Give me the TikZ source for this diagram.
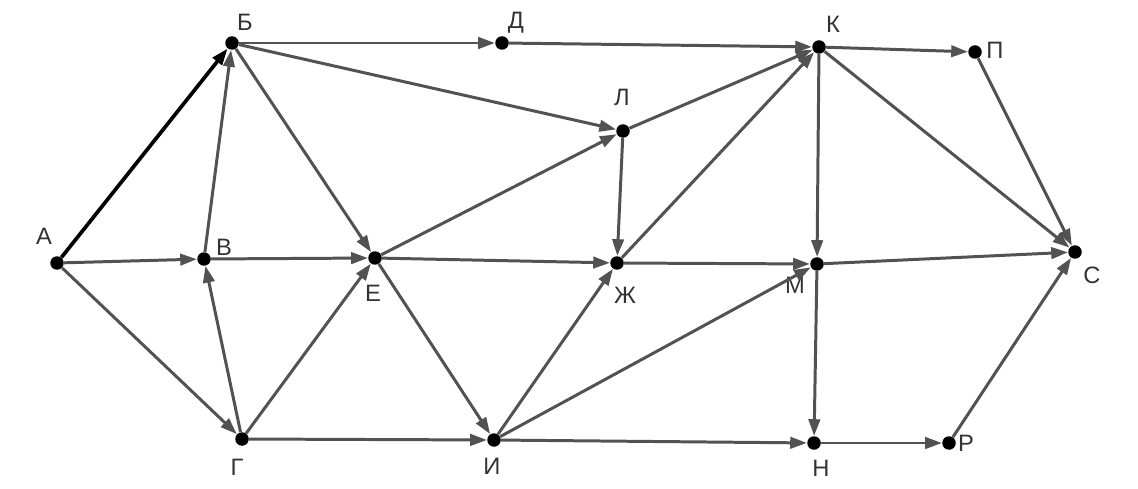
\documentclass[tikz,border=0pt]{standalone}
\usepackage{fontspec}
\setmainfont{Liberation Sans}
\usetikzlibrary{arrows.meta}

\tikzset{
    dot/.style={circle, fill=black, inner sep=0pt, minimum size=0.27cm},
    edge/.style={draw=black!68, line width=1.7pt, -{Triangle[length=9.5pt, width=6.5pt]}},
    lbl/.style={text=black!80, font=\fontsize{13.5}{15}\selectfont, inner sep=0pt}
}

\begin{document}
\begin{tikzpicture}[x=0.02cm, y=-0.02cm]
    \useasboundingbox (0,0) rectangle (1138,489);

    % Vertices
    \node[dot] (A)  at (57,263)   {};
    \node[dot] (B)  at (232,43)   {};
    \node[dot] (V)  at (204,259)  {};
    \node[dot] (G)  at (242,439)  {};
    \node[dot] (D)  at (502,43)   {};
    \node[dot] (E)  at (375,258)  {};
    \node[dot] (Zh) at (617,263)  {};
    \node[dot] (I)  at (494,440)  {};
    \node[dot] (K)  at (819,47)   {};
    \node[dot] (L)  at (623,131)  {};
    \node[dot] (M)  at (817,264)  {};
    \node[dot] (N)  at (814,443)  {};
    \node[dot] (P)  at (975,52)   {};
    \node[dot] (R)  at (949,443)  {};
    \node[dot] (S)  at (1075,252) {};

    % Labels
    \node[lbl] (lA)  at (44,236)   {А};
    \node[lbl] (lB)  at (245,22)   {Б};
    \node[lbl] (lV)  at (224,247)  {В};
    \node[lbl] (lG)  at (237,467)  {Г};
    \node[lbl] (lD)  at (516,23)   {Д};
    \node[lbl] (lE)  at (373,293)  {Е};
    \node[lbl] (lZh) at (625,295)  {Ж};
    \node[lbl] (lI)  at (492,466)  {И};
    \node[lbl] (lK)  at (833,24)   {К};
    \node[lbl] (lL)  at (622,97)   {Л};
    \node[lbl] (lM)  at (795,285)  {М};
    \node[lbl] (lN)  at (821,468)  {Н};
    \node[lbl] (lP)  at (995,50)   {П};
    \node[lbl] (lR)  at (966,443)  {Р};
    \node[lbl] (lS)  at (1092,275) {С};

    % Arcs
    \draw[edge, draw=black, line width=2.1pt] (A) -- (B);
    \draw[edge] (A) -- (V);
    \draw[edge] (A) -- (G);
    \draw[edge] (V) -- (B);
    \draw[edge] (G) -- (V);
    \draw[edge] (V) -- (E);
    \draw[edge] (B) -- (E);
    \draw[edge] (G) -- (E);
    \draw[edge] (B) -- (D);
    \draw[edge] (B) -- (L);
    \draw[edge] (G) -- (I);
    \draw[edge] (E) -- (L);
    \draw[edge] (E) -- (Zh);
    \draw[edge] (E) -- (I);
    \draw[edge] (D) -- (K);
    \draw[edge] (L) -- (K);
    \draw[edge] (L) -- (Zh);
    \draw[edge] (Zh) -- (K);
    \draw[edge] (Zh) -- (M);
    \draw[edge] (I) -- (Zh);
    \draw[edge] (I) -- (M);
    \draw[edge] (I) -- (N);
    \draw[edge] (K) -- (P);
    \draw[edge] (K) -- (M);
    \draw[edge] (K) -- (S);
    \draw[edge] (P) -- (S);
    \draw[edge] (M) -- (S);
    \draw[edge] (M) -- (N);
    \draw[edge] (N) -- (R);
    \draw[edge] (R) -- (S);
\end{tikzpicture}
\end{document}
